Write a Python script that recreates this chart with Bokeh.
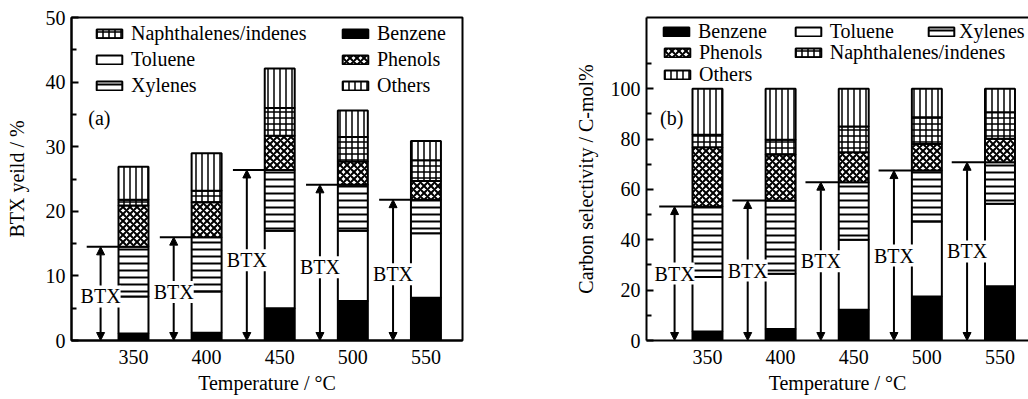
import numpy as np
from bokeh.plotting import figure
from bokeh.models import (ColumnDataSource, FixedTicker, Range1d, Legend, LegendItem,
                          Arrow, NormalHead, LinearAxis)
from bokeh.layouts import row
from bokeh.core.properties import value
from bokeh.embed import file_html
from bokeh.resources import INLINE

# ---------------- data ----------------
temps = [350, 400, 450, 500, 550]
components = ["Benzene", "Toluene", "Xylenes", "Phenols", "Naphthalenes/indenes", "Others"]

# (a) BTX yield / %  (component contributions, stacked bottom -> top)
yield_benzene = [1.1, 1.2, 5.0, 6.1, 6.6]
yield_toluene = [5.7, 6.4, 12.0, 10.9, 10.0]
yield_xylenes = [7.7, 8.4, 9.4, 7.1, 5.2]
yield_phenols = [6.4, 5.4, 5.3, 3.6, 2.9]
yield_naph = [0.9, 1.8, 4.3, 3.8, 3.2]
yield_others = [5.1, 5.8, 6.1, 4.1, 3.0]

# (b) Carbon selectivity / C-mol%
sel_benzene = [3.6, 4.6, 12.2, 17.5, 21.5]
sel_toluene = [21.6, 21.9, 27.8, 29.8, 32.8]
sel_xylenes = [28.0, 29.1, 22.9, 20.2, 16.5]
sel_phenols = [23.6, 18.3, 11.9, 10.6, 9.3]
sel_naph = [4.9, 5.8, 10.2, 10.6, 10.6]
sel_others = [18.3, 20.3, 15.0, 11.3, 9.3]

y_ticks_a = [0, 10, 20, 30, 40, 50]
y_minor_a = [5, 15, 25, 35, 45]
y_ticks_b = [0, 20, 40, 60, 80, 100]
y_minor_b = [10, 30, 50, 70, 90, 110]

FONT = "Liberation Serif"
FS = "20px"

STYLES = {
    "Benzene": dict(fill_color="black"),
    "Toluene": dict(fill_color="white"),
    "Xylenes": dict(fill_color="white", hatch_pattern="-", hatch_scale=7, hatch_weight=2, hatch_color="black"),
    "Phenols": dict(fill_color="white", hatch_pattern="x", hatch_scale=7, hatch_weight=2, hatch_color="black"),
    "Naphthalenes/indenes": dict(fill_color="white", hatch_pattern="+", hatch_scale=6, hatch_weight=1.5, hatch_color="black"),
    "Others": dict(fill_color="white", hatch_pattern="|", hatch_scale=6, hatch_weight=1.5, hatch_color="black"),
}

BAR_W = 20.5


def make_panel(values, width, x_range, y_range, borders, yticks, yminor, ylabel,
               title_standoff, arrow_dx, line_dx0, label_frac, legend_spec, tag, tag_xy,
               outline=True):
    bl, br, bt, bb = borders
    p = figure(width=width, height=399, x_range=Range1d(*x_range), y_range=Range1d(*y_range),
               output_backend="svg", toolbar_location=None,
               min_border_left=bl, min_border_right=br, min_border_top=bt, min_border_bottom=bb)
    p.grid.visible = False
    p.background_fill_color = "white"
    p.border_fill_color = "white"
    if outline:
        p.outline_line_color = "black"
        p.outline_line_width = 2
        p.outline_line_alpha = 1
    else:
        p.outline_line_color = None

    # axes
    p.xaxis.ticker = FixedTicker(ticks=temps)
    p.yaxis.ticker = FixedTicker(ticks=yticks, minor_ticks=yminor)
    for ax in (p.xaxis[0], p.yaxis[0]):
        ax.axis_line_width = 2
        ax.major_tick_line_width = 2
        ax.minor_tick_line_width = 2
        ax.major_label_text_font = FONT
        ax.major_label_text_font_size = FS
        ax.major_label_text_color = "black"
        ax.axis_label_text_font = FONT
        ax.axis_label_text_font_size = FS
        ax.axis_label_text_font_style = "normal"
        ax.axis_label_text_color = "black"
    p.xaxis.major_tick_in = 0
    p.xaxis.major_tick_out = 0
    p.xaxis.minor_tick_in = 0
    p.xaxis.minor_tick_out = 0
    p.xaxis.major_label_standoff = 9
    p.xaxis.axis_label = "Temperature / \u00b0C"
    p.xaxis.axis_label_standoff = 5
    p.yaxis.major_tick_in = 7
    p.yaxis.major_tick_out = 0
    p.yaxis.minor_tick_in = 5
    p.yaxis.minor_tick_out = 0
    p.yaxis.major_label_standoff = 6
    p.yaxis.axis_label = ylabel
    p.yaxis.axis_label_standoff = title_standoff

    if not outline:
        top = LinearAxis(ticker=FixedTicker(ticks=[]), axis_line_width=2,
                         major_tick_in=0, major_tick_out=0, minor_tick_in=0, minor_tick_out=0,
                         major_label_text_font_size="0px", major_label_standoff=0)
        p.add_layout(top, "above")

    # stacked bars
    arr = np.array(values, dtype=float)
    tops = np.cumsum(arr, axis=0)
    bottoms = tops - arr
    data = {"T": temps}
    for i in range(len(components)):
        data[f"b{i}"] = bottoms[i].tolist()
        data[f"t{i}"] = tops[i].tolist()
    src = ColumnDataSource(data)
    renderers = {}
    for i, name in enumerate(components):
        r = p.vbar(x="T", width=BAR_W, bottom=f"b{i}", top=f"t{i}", source=src,
                   line_color="black", line_width=2, **STYLES[name])
        renderers[name] = r

    # BTX markers
    btx = tops[2]
    t = np.array(temps, dtype=float)
    asrc = ColumnDataSource(dict(
        ax=(t + arrow_dx).tolist(), zero=[0.0] * len(temps), btx=btx.tolist(),
        ly=(btx * label_frac).tolist(), lx0=(t + line_dx0).tolist(),
        lx1=(t - BAR_W / 2).tolist(), lbl=["BTX"] * len(temps)))
    p.segment(x0="lx0", y0="btx", x1="lx1", y1="btx", source=asrc, line_color="black", line_width=2)
    arrow = Arrow(start=NormalHead(size=8, fill_color="black", line_color="black", line_width=1),
                  end=NormalHead(size=8, fill_color="black", line_color="black", line_width=1),
                  x_start="ax", y_start="zero", x_end="ax", y_end="btx", source=asrc,
                  line_color="black", line_width=2, level="underlay")
    p.add_layout(arrow)
    p.text(x="ax", y="ly", text="lbl", source=asrc, text_font=value(FONT), text_font_size=FS,
           text_align="center", text_baseline="middle", text_color="black",
           background_fill_color="white")

    # panel tag
    p.text(x=[tag_xy[0]], y=[tag_xy[1]], text=[tag], text_font=value(FONT), text_font_size=FS,
           text_align="center", text_baseline="middle", text_color="black")

    # legend: one entry per item, placed like the original
    for name, (lx, ly, standoff) in legend_spec.items():
        leg = Legend(items=[LegendItem(label=name, renderers=[renderers[name]])],
                     location=(lx, ly), glyph_width=32, glyph_height=11, label_standoff=standoff,
                     padding=0, margin=0, spacing=0, label_height=20,
                     border_line_color=None, background_fill_alpha=0,
                     label_text_font=FONT, label_text_font_size=FS, label_text_color="black")
        p.add_layout(leg)
    return p


LEG_H = 23


def leg_loc(swatch_left, row_center, frame_left, frame_bottom=340):
    return (swatch_left - frame_left, frame_bottom - (row_center + LEG_H / 2))


# panel (a)
fl_a = 71
legend_a = {
    "Naphthalenes/indenes": (*leg_loc(93, 33.5, fl_a), 6),
    "Toluene": (*leg_loc(93, 59.5, fl_a), 6),
    "Xylenes": (*leg_loc(93, 85.5, fl_a), 6),
    "Benzene": (*leg_loc(339, 33.5, fl_a), 6),
    "Phenols": (*leg_loc(339, 59.5, fl_a), 6),
    "Others": (*leg_loc(339, 85.5, fl_a), 6),
}
pa = make_panel([yield_benzene, yield_toluene, yield_xylenes, yield_phenols, yield_naph, yield_others],
                520, (307.6, 575.0), (0, 50), (71, 58, 17, 59), y_ticks_a, y_minor_a,
                "BTX yeild / %", 15, -22.5, -32, 0.47, legend_a, "(a)", (326.7, 34.5))

# panel (b)
fl_b = 126
legend_b = {
    "Benzene": (*leg_loc(660 - 520, 31, fl_b), 6),
    "Toluene": (*leg_loc(791.7 - 520, 31, fl_b), 6),
    "Xylenes": (*leg_loc(925 - 520, 31, fl_b), 2),
    "Phenols": (*leg_loc(661 - 520, 52.5, fl_b), 6),
    "Naphthalenes/indenes": (*leg_loc(791.7 - 520, 52.5, fl_b), 6),
    "Others": (*leg_loc(661 - 520, 74, fl_b), 6),
}
pb = make_panel([sel_benzene, sel_toluene, sel_xylenes, sel_phenols, sel_naph, sel_others],
                508, (308.3, 569.5), (0, 128.3), (126, 0, 17, 59), y_ticks_b, y_minor_b,
                "Carbon selectivity / C-mol%", 11, -22.5, -33, 0.5, legend_b, "(b)", (325.5, 88.5),
                outline=False)

layout = row(pa, pb, margin=(0, 0, 0, 0))
open("out.html", "w").write(file_html(layout, INLINE))
